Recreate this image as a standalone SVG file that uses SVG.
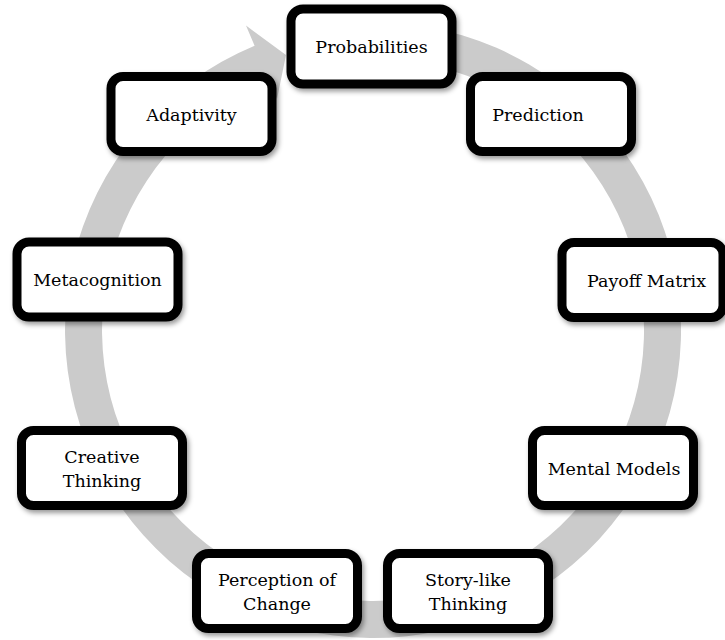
<svg xmlns="http://www.w3.org/2000/svg" width="725" height="640" viewBox="0 0 725 640">
  <defs>
    <filter id="shadow" x="-20%" y="-20%" width="140%" height="150%">
      <feDropShadow dx="2" dy="3" stdDeviation="2.5" flood-color="#000" flood-opacity="0.4"/>
    </filter>
    <style>
      .box { fill: #ffffff; stroke: #000000; stroke-width: 9; filter: url(#shadow); }
      .label { font-family: "DejaVu Serif", "Liberation Serif", serif; font-size: 17.5px; fill: #000000; text-anchor: middle; }
      .ring { fill: #cbcbcb; stroke: none; }
    </style>
  </defs>
  <rect width="725" height="640" fill="#ffffff"/>

  <!-- circular arrow running clockwise behind the nodes -->
  <g id="connectors">
    <path class="ring" d="M 426.5 26.7 A 308 308 0 1 1 254.6 45.7 L 246 25.5 L 286 55 L 277 99 L 268.9 79.8 A 271 271 0 1 0 420 63.1 Z"/>
  </g>

  <g id="node-probabilities" transform="translate(371.5,46.5)">
    <rect class="box" x="-80.5" y="-37.5" width="161" height="75" rx="12"/>
    <text class="label" x="0" y="6.5">Probabilities</text>
  </g>

  <g id="node-prediction" transform="translate(551,114)">
    <rect class="box" x="-80.5" y="-37.5" width="161" height="75" rx="12"/>
    <text class="label" x="-13" y="6.5">Prediction</text>
  </g>

  <g id="node-payoff-matrix" transform="translate(642.5,280)">
    <rect class="box" x="-80.5" y="-37.5" width="161" height="75" rx="12"/>
    <text class="label" x="4" y="6.5">Payoff Matrix</text>
  </g>

  <g id="node-mental-models" transform="translate(613,468)">
    <rect class="box" x="-80.5" y="-37.5" width="161" height="75" rx="12"/>
    <text class="label" x="1" y="6.5">Mental Models</text>
  </g>

  <g id="node-story-like-thinking" transform="translate(468,591)">
    <rect class="box" x="-80.5" y="-37.5" width="161" height="75" rx="12"/>
    <text class="label" x="0" y="-5">Story-like</text>
    <text class="label" x="0" y="19">Thinking</text>
  </g>

  <g id="node-perception-of-change" transform="translate(277,591)">
    <rect class="box" x="-80.5" y="-37.5" width="161" height="75" rx="12"/>
    <text class="label" x="0" y="-5">Perception of</text>
    <text class="label" x="0" y="19">Change</text>
  </g>

  <g id="node-creative-thinking" transform="translate(102,468)">
    <rect class="box" x="-80.5" y="-37.5" width="161" height="75" rx="12"/>
    <text class="label" x="0" y="-5">Creative</text>
    <text class="label" x="0" y="19">Thinking</text>
  </g>

  <g id="node-metacognition" transform="translate(97.5,279.5)">
    <rect class="box" x="-80.5" y="-37.5" width="161" height="75" rx="12"/>
    <text class="label" x="0" y="6.5">Metacognition</text>
  </g>

  <g id="node-adaptivity" transform="translate(191.5,114)">
    <rect class="box" x="-80.5" y="-37.5" width="161" height="75" rx="12"/>
    <text class="label" x="0" y="6.5">Adaptivity</text>
  </g>
</svg>
